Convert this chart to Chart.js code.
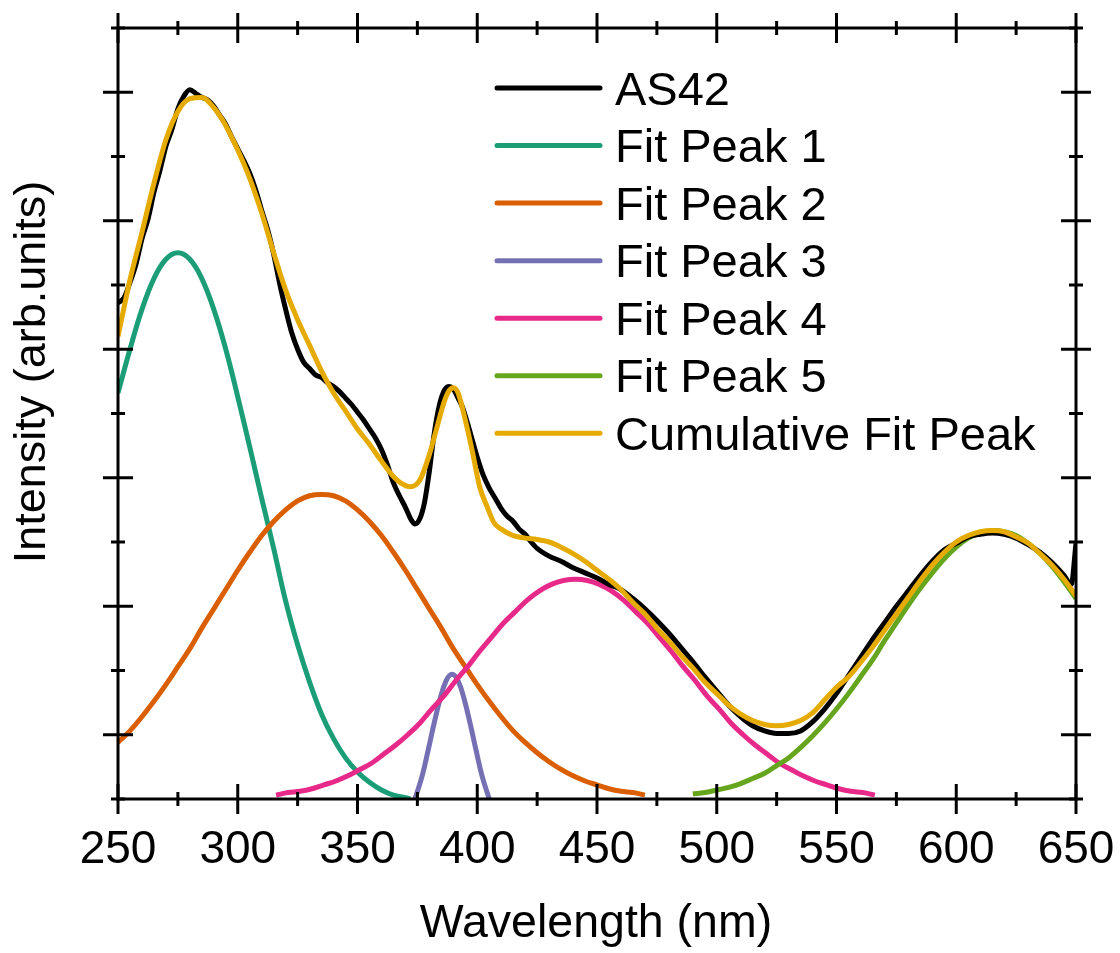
<!DOCTYPE html>
<html>
<head>
<meta charset="utf-8">
<title>AS42 peak fit</title>
<script src="https://cdn.jsdelivr.net/npm/chart.js@4.4.1/dist/chart.umd.min.js"></script>
<style>
  html, body { margin: 0; padding: 0; background: #fff; }
  #wrap { width: 1120px; height: 953px; position: relative; }
</style>
</head>
<body>
<div id="wrap"><canvas id="spectrum"></canvas></div>
<script>
// ── DATA ──
// measured spectrum
const as42Nm = [
  250, 252.5, 255, 257.5, 260, 262.5, 265, 267.5, 270, 272.5,
  275, 277.5, 280, 282.5, 285, 287.5, 290, 292.5, 295, 297.5,
  300, 302.5, 305, 307.5, 310, 312.5, 315, 317.5, 320, 322.5,
  325, 327.5, 330, 332.5, 335, 337.5, 340, 342.5, 345, 347.5,
  350, 352.5, 355, 357.5, 360, 362.5, 365, 367.5, 370, 372.5,
  374, 376, 378, 380, 382, 384, 386, 388, 390, 392,
  394, 396, 398, 400, 402.5, 405, 407.5, 410, 412.5, 415,
  417.5, 420, 422.5, 425, 430, 435, 440, 445, 450, 455,
  460, 465, 470, 475, 480, 485, 490, 495, 500, 505,
  510, 515, 520, 525, 530, 535, 540, 545, 550, 555,
  560, 565, 570, 575, 580, 585, 590, 595, 600, 605,
  610, 615, 620, 625, 630, 635, 640, 645, 648, 650
];
const as42Int = [
  3.86, 3.90, 4.02, 4.16, 4.36, 4.51, 4.72, 4.89, 5.08, 5.21,
  5.37, 5.47, 5.52, 5.49, 5.46, 5.44, 5.39, 5.32, 5.25, 5.15,
  5.06, 4.97, 4.87, 4.74, 4.58, 4.43, 4.24, 4.01, 3.81, 3.63,
  3.50, 3.40, 3.35, 3.30, 3.28, 3.24, 3.21, 3.17, 3.12, 3.07,
  3.01, 2.95, 2.88, 2.81, 2.72, 2.60, 2.46, 2.36, 2.27, 2.17,
  2.14, 2.18, 2.31, 2.55, 2.84, 3.05, 3.17, 3.21, 3.19, 3.12,
  3.04, 2.92, 2.79, 2.66, 2.52, 2.42, 2.34, 2.26, 2.20, 2.16,
  2.10, 2.06, 2.00, 1.95, 1.89, 1.85, 1.80, 1.76, 1.72, 1.67,
  1.63, 1.56, 1.48, 1.39, 1.29, 1.18, 1.07, 0.95, 0.84, 0.73,
  0.64, 0.57, 0.53, 0.51, 0.51, 0.53, 0.60, 0.70, 0.82, 0.96,
  1.10, 1.24, 1.37, 1.50, 1.62, 1.74, 1.85, 1.94, 1.99, 2.04,
  2.06, 2.07, 2.06, 2.03, 1.98, 1.92, 1.84, 1.74, 1.67, 1.99
];

// fitted components
const peak1Nm = [250, 255, 260, 265, 270, 275, 280, 285, 290, 295, 300, 305, 310,
  315, 320, 325, 330, 335, 340, 345, 350, 355, 360, 365, 370, 372];
const peak1Int = [3.16, 3.50, 3.81, 4.05, 4.20, 4.25, 4.20, 4.05, 3.81, 3.50, 3.13, 2.74, 2.34,
  1.95, 1.54, 1.20, 0.91, 0.66, 0.47, 0.32, 0.21, 0.13, 0.07, 0.03, 0.01, 0];

const peak2Nm = [250, 255, 260, 265, 270, 275, 280, 285, 290, 295, 300, 305, 310, 315,
  320, 325, 330, 335, 340, 345, 350, 355, 360, 365, 370, 375, 380, 385, 390, 395,
  400, 405, 410, 415, 420, 425, 430, 435, 440, 445, 450, 455, 460, 465, 470];
const peak2Int = [0.44, 0.53, 0.64, 0.76, 0.89, 1.03, 1.17, 1.33, 1.48, 1.63, 1.78, 1.92, 2.05, 2.16,
  2.25, 2.32, 2.36, 2.37, 2.36, 2.32, 2.25, 2.16, 2.05, 1.92, 1.78, 1.63, 1.48, 1.33, 1.17, 1.03,
  0.89, 0.76, 0.64, 0.53, 0.44, 0.36, 0.29, 0.23, 0.18, 0.14, 0.11, 0.08, 0.06, 0.05, 0.03];

const peak3Nm = [374, 377, 379.5, 382, 384.5, 387, 389.5, 392, 394.5, 397, 399.5, 402, 405];
const peak3Int = [0, 0.18, 0.38, 0.59, 0.78, 0.92, 0.97, 0.92, 0.78, 0.59, 0.38, 0.18, 0];

const peak4Nm = [316, 321, 326, 331, 336, 341, 346, 351, 356, 361, 366, 371, 376, 381, 386,
  391, 396, 401, 406, 411, 416, 421, 426, 431, 436, 441, 446, 451, 456, 461, 466, 471,
  476, 481, 486, 491, 496, 501, 506, 511, 516, 521, 526, 531, 536, 541, 546, 551, 556,
  561, 566];
const peak4Int = [0.03, 0.05, 0.06, 0.08, 0.11, 0.14, 0.18, 0.23, 0.28, 0.35, 0.42, 0.50, 0.59, 0.70, 0.80,
  0.92, 1.03, 1.15, 1.26, 1.37, 1.46, 1.55, 1.62, 1.67, 1.70, 1.71, 1.70, 1.67, 1.62, 1.55, 1.46, 1.37,
  1.26, 1.15, 1.03, 0.92, 0.80, 0.70, 0.59, 0.50, 0.42, 0.35, 0.28, 0.23, 0.18, 0.14, 0.11, 0.08, 0.06,
  0.05, 0.03];

const peak5Nm = [490, 495, 500, 505, 510, 515, 520, 525, 530, 535, 540, 545, 550, 555,
  560, 565, 570, 575, 580, 585, 590, 595, 600, 605, 610, 615, 620, 625, 630, 635, 640,
  645, 650];
const peak5Int = [0.04, 0.05, 0.07, 0.09, 0.12, 0.16, 0.20, 0.26, 0.32, 0.40, 0.49, 0.59, 0.70, 0.82,
  0.95, 1.08, 1.23, 1.37, 1.51, 1.64, 1.76, 1.87, 1.96, 2.03, 2.07, 2.09, 2.08, 2.05, 1.99, 1.91, 1.81,
  1.69, 1.56];

// sum of the five components
const cumNm = [
  250, 255, 260, 265, 270, 275, 280, 285, 290, 295,
  300, 305, 310, 315, 320, 325, 330, 335, 340, 345,
  350, 355, 360, 365, 368, 372, 376, 380, 383, 386,
  388, 390, 392, 395, 398, 401, 404, 407, 410, 415,
  420, 425, 430, 435, 440, 445, 450, 455, 460, 465,
  470, 475, 480, 485, 490, 495, 500, 505, 510, 515,
  520, 525, 530, 535, 540, 545, 550, 555, 560, 565,
  570, 575, 580, 585, 590, 595, 600, 605, 610, 615,
  620, 625, 630, 635, 640, 645, 650
];
const cumInt = [
  3.60, 4.04, 4.41, 4.79, 5.13, 5.35, 5.45, 5.46, 5.38, 5.24,
  5.05, 4.83, 4.56, 4.25, 3.96, 3.73, 3.53, 3.33, 3.16, 3.02,
  2.88, 2.76, 2.63, 2.51, 2.46, 2.43, 2.48, 2.68, 2.88, 3.08,
  3.17, 3.20, 3.16, 2.95, 2.70, 2.43, 2.28, 2.15, 2.10, 2.05,
  2.03, 2.02, 2.00, 1.96, 1.91, 1.85, 1.78, 1.71, 1.63, 1.53,
  1.44, 1.33, 1.23, 1.12, 1.02, 0.91, 0.82, 0.73, 0.66, 0.61,
  0.58, 0.57, 0.58, 0.61, 0.67, 0.77, 0.87, 0.95, 1.06, 1.18,
  1.31, 1.44, 1.57, 1.70, 1.82, 1.92, 2.00, 2.05, 2.08, 2.09,
  2.08, 2.04, 1.99, 1.91, 1.82, 1.71, 1.58
];

const xTicks = [250, 300, 350, 400, 450, 500, 550, 600, 650];

// ── STYLE ──
const FONT = '"Liberation Sans", Arial, Helvetica, sans-serif';
const COLORS = {
  data: '#000000',
  p1: '#1b9e77',
  p2: '#d95f02',
  p3: '#7570b3',
  p4: '#e7298a',
  p5: '#66a61e',
  cum: '#e6ab02'
};

const zip = (xs, ys) => xs.map((x, i) => ({ x, y: ys[i] }));

// smooth analytic fits get a spline, the measured trace keeps its extrema
function curve(label, xs, ys, color, order, smooth) {
  const ds = {
    label,
    data: zip(xs, ys),
    borderColor: color,
    backgroundColor: color,
    borderWidth: 5,
    borderJoinStyle: 'round',
    pointRadius: 0,
    fill: false,
    order
  };
  if (smooth) ds.tension = 0.4;
  else ds.cubicInterpolationMode = 'monotone';
  return ds;
}

function stroke(ctx, x1, y1, x2, y2) {
  ctx.beginPath();
  ctx.moveTo(x1, y1);
  ctx.lineTo(x2, y2);
  ctx.stroke();
}

// box, in/out ticks on all four sides, axis text and the legend
const framePlugin = {
  id: 'frame',
  afterDatasetsDraw(chart) {
    const { ctx, chartArea: a, scales: { x, y } } = chart;
    ctx.save();
    ctx.strokeStyle = '#000';
    ctx.lineWidth = 3;
    ctx.lineCap = 'butt';
    ctx.strokeRect(a.left, a.top, a.right - a.left, a.bottom - a.top);

    for (let v = x.min; v <= x.max; v += 25) {
      const px = x.getPixelForValue(v);
      const len = v % 50 === 0 ? 15 : 7;
      stroke(ctx, px, a.bottom - len, px, a.bottom + len);
      stroke(ctx, px, a.top - len, px, a.top + len);
    }
    for (let v = y.min; v <= y.max; v += 0.5) {
      const py = y.getPixelForValue(v);
      const len = v % 1 === 0.5 ? 15 : 7;
      stroke(ctx, a.left - len, py, a.left + len, py);
      stroke(ctx, a.right - len, py, a.right + len, py);
    }

    ctx.fillStyle = '#000';
    ctx.textBaseline = 'alphabetic';
    ctx.textAlign = 'center';
    ctx.font = `46px ${FONT}`;
    xTicks.forEach(v => ctx.fillText(String(v), x.getPixelForValue(v), a.bottom + 64));

    ctx.font = `46.5px ${FONT}`;
    ctx.fillText('Wavelength (nm)', 596, a.bottom + 138);

    ctx.save();
    ctx.font = `45px ${FONT}`;
    ctx.translate(45, 372);
    ctx.rotate(-Math.PI / 2);
    ctx.fillText('Intensity (arb.units)', 0, 0);
    ctx.restore();

    // legend
    ctx.font = `47px ${FONT}`;
    ctx.textAlign = 'left';
    chart.data.datasets.forEach((ds, i) => {
      const ly = 88 + i * 57.55;
      ctx.strokeStyle = ds.borderColor;
      ctx.lineWidth = 5;
      ctx.lineCap = 'round';
      stroke(ctx, 497, ly, 600, ly);
      ctx.fillText(ds.label, 615, ly + 16.5);
    });
    ctx.restore();
  }
};

new Chart(document.getElementById('spectrum'), {
  type: 'line',
  data: {
    datasets: [
      curve('AS42', as42Nm, as42Int, COLORS.data, 1, false),
      curve('Fit Peak 1', peak1Nm, peak1Int, COLORS.p1, 6, true),
      curve('Fit Peak 2', peak2Nm, peak2Int, COLORS.p2, 5, true),
      curve('Fit Peak 3', peak3Nm, peak3Int, COLORS.p3, 4, true),
      curve('Fit Peak 4', peak4Nm, peak4Int, COLORS.p4, 3, true),
      curve('Fit Peak 5', peak5Nm, peak5Int, COLORS.p5, 2, true),
      curve('Cumulative Fit Peak', cumNm, cumInt, COLORS.cum, 0, false)
    ]
  },
  options: {
    responsive: true,
    maintainAspectRatio: false,
    animation: false,
    layout: { padding: { left: 118, right: 44, top: 28, bottom: 154 } },
    scales: {
      x: { type: 'linear', min: 250, max: 650, display: false },
      y: { type: 'linear', min: 0, max: 6, display: false }
    },
    plugins: {
      legend: { display: false },
      tooltip: { enabled: false }
    }
  },
  plugins: [framePlugin]
});
</script>
</body>
</html>
